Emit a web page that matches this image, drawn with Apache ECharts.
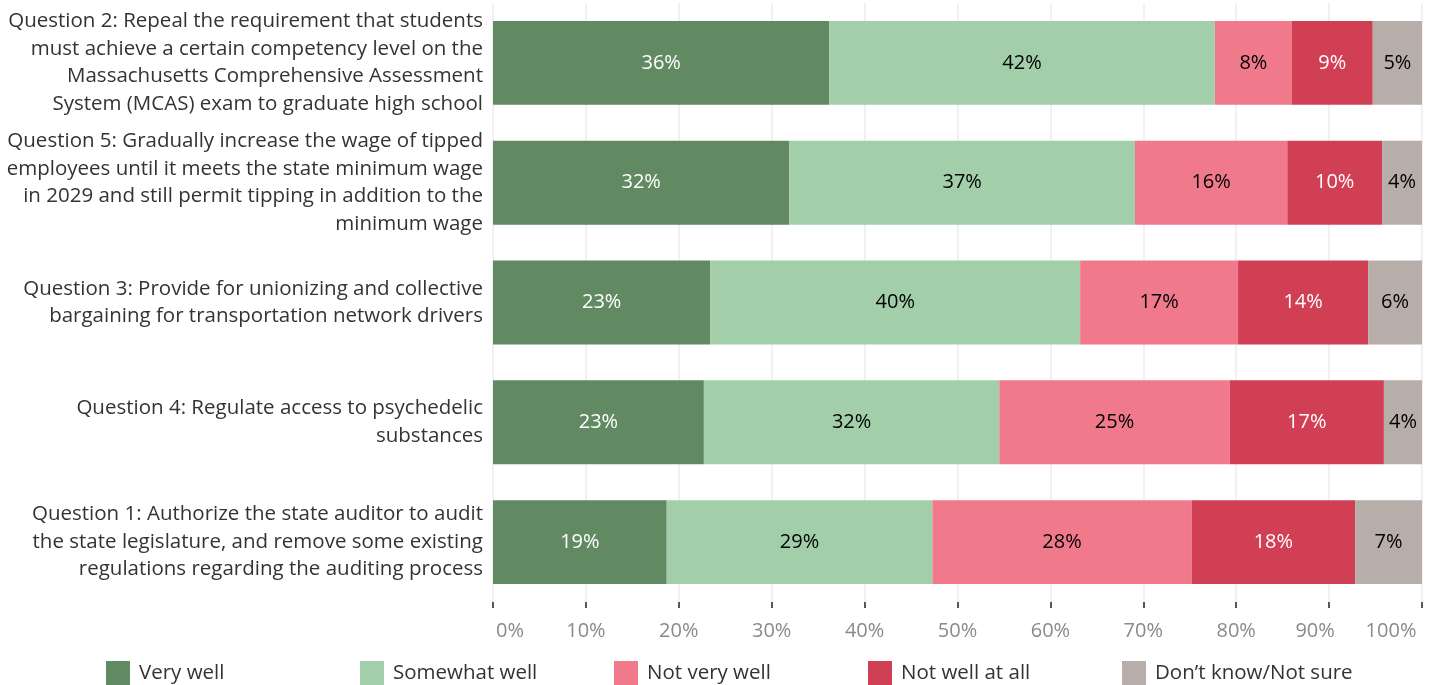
<!DOCTYPE html>
<html><head><meta charset="utf-8">
<script src="https://cdn.jsdelivr.net/npm/echarts@6/dist/echarts.min.js"></script>
<style>html,body{margin:0;padding:0;background:#fff}#c{width:1434px;height:685px}</style>
</head><body><div id="c"></div>
<script>
var categories = [
  "Question 2: Repeal the requirement that students\nmust achieve a certain competency level on the\nMassachusetts Comprehensive Assessment\nSystem (MCAS) exam to graduate high school",
  "Question 5: Gradually increase the wage of tipped\nemployees until it meets the state minimum wage\nin 2029 and still permit tipping in addition to the\nminimum wage",
  "Question 3: Provide for unionizing and collective\nbargaining for transportation network drivers",
  "Question 4: Regulate access to psychedelic\nsubstances",
  "Question 1: Authorize the state auditor to audit\nthe state legislature, and remove some existing\nregulations regarding the auditing process"
];
var seriesNames = ["Very well", "Somewhat well", "Not very well", "Not well at all", "Don\u2019t know/Not sure"];
var veryWell     = [36.2, 31.9, 23.4, 22.7, 18.7];
var somewhatWell = [41.5, 37.2, 39.8, 31.8, 28.6];
var notVeryWell  = [8.3, 16.4, 17.0, 24.8, 27.9];
var notWellAtAll = [8.7, 10.2, 14.0, 16.6, 17.6];
var dontKnow     = [5.3, 4.3, 5.8, 4.1, 7.2];
var tickLabels = ["0%","10%","20%","30%","40%","50%","60%","70%","80%","90%","100%"];

var colors = ["#618a63", "#a2cfa9", "#f07a8c", "#d13f55", "#b8aea9"];
var labelColors = ["#ffffff", "#000000", "#000000", "#ffffff", "#000000"];
var FONT = "'Open Sans', sans-serif";
var allData = [veryWell, somewhatWell, notVeryWell, notWellAtAll, dontKnow];
var legendLeft = [106, 360, 614, 868, 1122];

var chart = echarts.init(document.getElementById('c'));
var series = seriesNames.map(function(n, i){
  return {
    name: n, type: 'bar', stack: 'total', data: allData[i],
    barCategoryGap: '30%',
    itemStyle: { color: colors[i] },
    label: { show: true, position: 'inside', color: labelColors[i], fontSize: 20, fontFamily: FONT,
      formatter: function(p){ return Math.round(p.value) + '%'; } },
    emphasis: { disabled: true }
  };
});
var legends = seriesNames.map(function(n, i){
  return {
    left: legendLeft[i], top: 661, padding: 0, itemWidth: 24, itemHeight: 24, itemGap: 0,
    icon: 'rect', data: [n], selectedMode: false,
    textStyle: { color: '#333', fontSize: 20.5, lineHeight: 24, fontFamily: FONT, padding: [0,0,0,4] }
  };
});
chart.setOption({
  animation: false,
  textStyle: { fontFamily: FONT },
  grid: { left: 493, right: 12, top: 3, bottom: 83 },
  xAxis: {
    type: 'value', min: 0, max: 100, interval: 10,
    axisLine: { show: false },
    axisTick: { show: true, length: 6, lineStyle: { color: '#222', width: 1.5 } },
    splitLine: { show: true, lineStyle: { color: '#ececec', width: 1.5 } },
    axisLabel: {
      margin: 19, color: '#8a8a8a', fontSize: 20, fontFamily: FONT,
      formatter: function(v){
        var s = tickLabels[Math.round(v/10)];
        if (v === 0) return '{l|' + s + '}';
        if (v === 100) return '{r|' + s + '}';
        if (v === 90) return '{n|' + s + '}';
        return s;
      },
      rich: {
        l: { color: '#8a8a8a', fontSize: 20, fontFamily: FONT, padding: [0,0,0,34] },
        r: { color: '#8a8a8a', fontSize: 20, fontFamily: FONT, padding: [0,62,0,0] },
        n: { color: '#8a8a8a', fontSize: 20, fontFamily: FONT, padding: [0,28,0,0] }
      }
    }
  },
  yAxis: {
    type: 'category', data: categories, inverse: true,
    axisLine: { show: false }, axisTick: { show: false },
    axisLabel: { color: '#333', fontSize: 20.5, lineHeight: 27.5, fontFamily: FONT, margin: 10, align: 'right' }
  },
  legend: legends,
  series: series
});
</script></body></html>
